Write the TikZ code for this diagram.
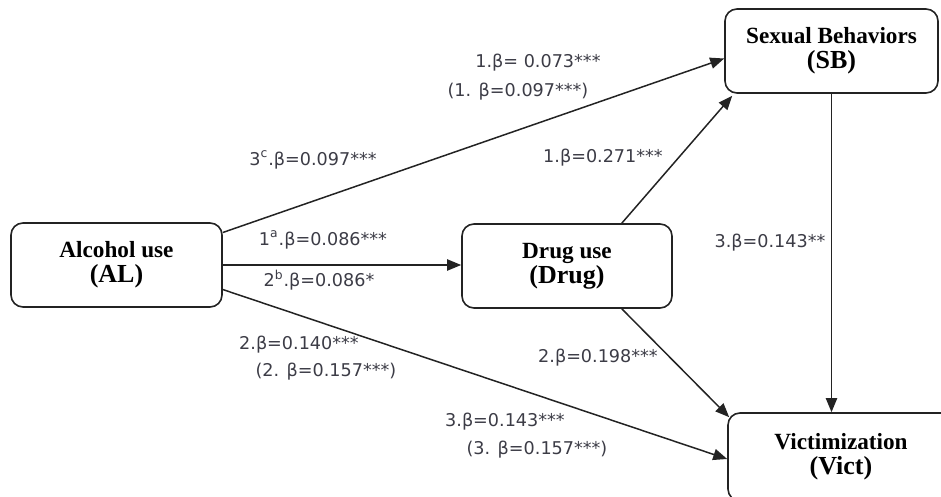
\documentclass[tikz,border=0pt]{standalone}
\usepackage{fontspec}
\setmainfont{Liberation Serif}
\newfontfamily\coeffont{DejaVu Sans}
\usetikzlibrary{arrows.meta,calc}
\definecolor{ink}{RGB}{35,35,35}
\definecolor{coef}{RGB}{60,60,70}

\tikzset{
  box/.style={draw=ink, line width=0.8pt, rounded corners=6pt, fill=white,
    align=center, inner sep=0pt, text=black},
  coefl/.style={font=\coeffont\fontsize{8.8}{10}\selectfont, text=coef, inner sep=0pt},
  link/.style={-{Triangle[length=7pt,width=5.6pt]}, line width=0.75pt, draw=ink}
}
\newcommand{\boxtext}[2]{{\bfseries\fontsize{11.6}{13.5}\selectfont #1}\\[0.5pt]{\bfseries\fontsize{13}{13.5}\selectfont #2}}

\begin{document}
\begin{tikzpicture}[x=0.5pt, y=-0.5pt]
  \useasboundingbox (0,0) rectangle (941,497);
  \clip (0,0) rectangle (941,497);

  % variables
  \node[box, minimum width=105.5pt, minimum height=42pt] (al)   at (116.5,265) {\boxtext{Alcohol use}{(AL)}};
  \node[box, minimum width=105pt,   minimum height=42pt] (drug) at (567,266)   {\boxtext{Drug use}{(Drug)}};
  \node[box, minimum width=106.5pt, minimum height=42pt] (sb)   at (831.5,51)  {\boxtext{Sexual Behaviors}{(SB)}};
  \node[box, minimum width=113pt,   minimum height=44pt] (vict) at (841,457)   {\boxtext{Victimization}{(Vict)}};

  % paths
  \draw[link] (al.17) -- (sb.184);
  \draw[link] (al.east) -- (al.east -| drug.west);
  \draw[link] (al.-13) -- ($(vict.west)+(0,2)$);
  \draw[link] (drug.38) -- ($(sb.south west)+(8,2)$);
  \draw[link] (drug.-38) -- ($(vict.north west)+(2,5)$);
  \draw[link] (sb.south) -- (sb.south |- vict.north);

  % coefficients
  \node[coefl] (alsb)    at (538,63)  {1.β= 0.073***};
  \node[coefl] (alsbx)   at (518,92)  {(1. β=0.097***)};
  \node[coefl] (alsbc)   at (313,160) {3\textsuperscript{c}.β=0.097***};
  \node[coefl] (drugsb)  at (603,158) {1.β=0.271***};
  \node[coefl] (sbvict)  at (770,243) {3.β=0.143**};
  \node[coefl] (aldruga) at (323,240) {1\textsuperscript{a}.β=0.086***};
  \node[coefl] (aldrugb) at (319,280) {2\textsuperscript{b}.β=0.086*};
  \node[coefl] (alvict)  at (299,345) {2.β=0.140***};
  \node[coefl] (alvictx) at (326,372) {(2. β=0.157***)};
  \node[coefl] (drugvict) at (598,358) {2.β=0.198***};
  \node[coefl] (alvict3)  at (505,422) {3.β=0.143***};
  \node[coefl] (alvict3x) at (537,450) {(3. β=0.157***)};
\end{tikzpicture}
\end{document}
